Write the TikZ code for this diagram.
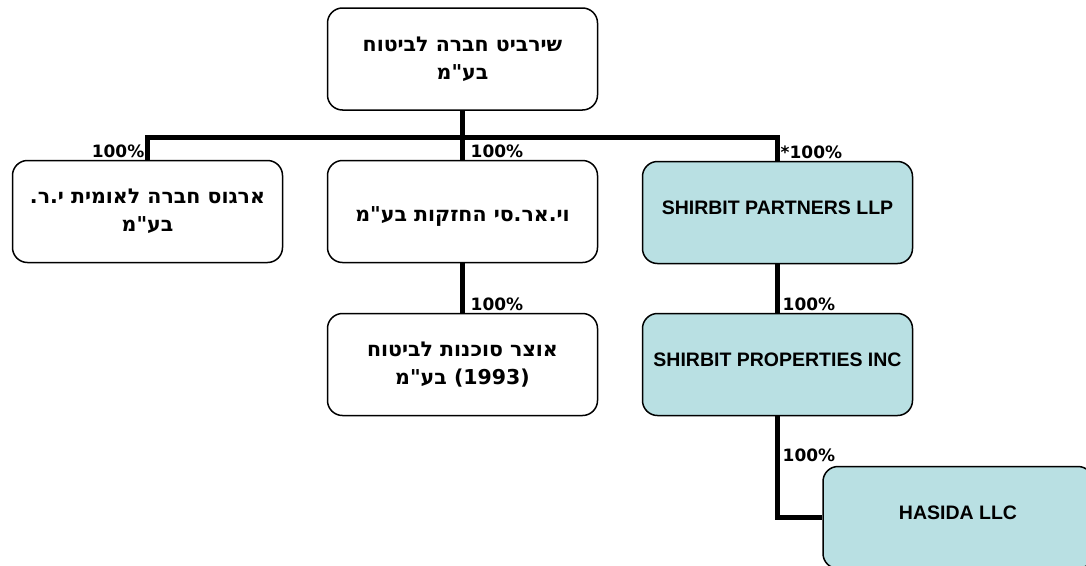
\documentclass[tikz,border=0pt]{standalone}
\usepackage{fontspec}
\setmainfont{Liberation Sans}
\newfontface\hebfont[Script=Hebrew]{DejaVu Sans Bold}
\newfontfamily\pctfont{DejaVu Sans}
\TeXXeTstate=1
\usetikzlibrary{positioning}
\definecolor{boxblue}{RGB}{185,224,227}
\newcommand{\heb}[1]{{\hebfont\beginR #1\endR}}
\tikzset{firm/.style={draw,line width=1.5pt,rounded corners=15pt,minimum width=270pt,minimum height=102pt,align=center,font=\fontsize{19.5}{27}\selectfont\bfseries}}
\tikzset{home/.style={firm,font=\fontsize{20.5}{28}\selectfont,execute at begin node={\rule{0pt}{24pt}}}}
\tikzset{abroad/.style={firm,fill=boxblue,text depth=10pt}}
\tikzset{tie/.style={line width=5pt}}
\tikzset{stake/.style={inner sep=0pt,font=\pctfont\fontsize{17}{19}\selectfont\bfseries}}

\begin{document}
\begin{tikzpicture}[x=1pt,y=-1pt]
  \useasboundingbox (0,0) rectangle (1086,565);
  \clip (0,0) rectangle (1086,565);

  \node[home] (top) at (462.5,59) {\heb{שירביט חברה לביטוח}\\ \heb{בע"מ}};
  \node[home] (argos) at (147.5,211.5) {\heb{ארגוס חברה לאומית י.ר.}\\ \heb{בע"מ}};
  \node[home] (vrc) at (462.5,211.5) {\heb{וי.אר.סי החזקות בע"מ}};
  \node[home] (otzar) at (462.5,364.5) {\heb{אוצר סוכנות לביטוח}\\ \heb{\beginL(1993)\endL{} בע"מ}};
  \node[abroad] (partners) at (777.5,212.5) {SHIRBIT PARTNERS LLP};
  \node[abroad] (properties) at (777.5,364.5) {SHIRBIT PROPERTIES INC};
  \node[abroad] (hasida) at (958,517.5) {HASIDA LLC};

  \coordinate (bus) at (0,137);
  \draw[tie] (top.south) -- (vrc.north);
  \draw[tie] (argos.north) |- (bus -| vrc.north) -| (partners.north);
  \draw[tie] (vrc.south) -- (otzar.north);
  \draw[tie] (partners.south) -- (properties.north);
  \draw[tie] (properties.south) |- (hasida.west);

  \node[stake,anchor=south east] (p-argos) at ([xshift=-3pt,yshift=2pt]argos.north) {100\%};
  \node[stake,anchor=south west] (p-vrc) at ([xshift=8pt,yshift=2pt]vrc.north) {100\%};
  \node[stake,anchor=south west] (p-partners) at ([xshift=3pt,yshift=2pt]partners.north) {*100\%};
  \node[stake,anchor=south west] (p-otzar) at ([xshift=8pt,yshift=2pt]otzar.north) {100\%};
  \node[stake,anchor=south west] (p-properties) at ([xshift=5pt,yshift=2pt]properties.north) {100\%};
  \node[stake,anchor=south west] (p-hasida) at ([xshift=5pt,yshift=4pt]properties.south |- hasida.north) {100\%};
\end{tikzpicture}
\end{document}
